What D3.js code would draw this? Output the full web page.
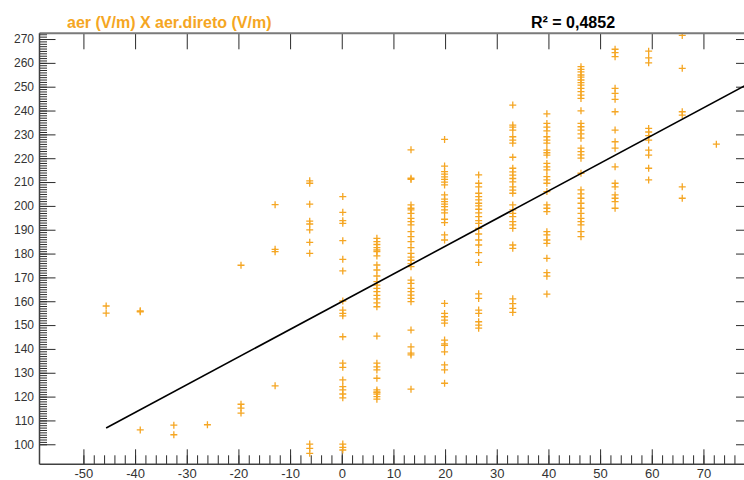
<!DOCTYPE html>
<html>
<head>
<meta charset="utf-8">
<script src="https://cdn.jsdelivr.net/npm/d3@7"></script>
<style>
  html, body { margin: 0; padding: 0; background: #fff; }
  svg { display: block; font-family: "Liberation Sans", Arial, sans-serif; }
</style>
</head>
<body>
<svg id="chart" width="744" height="480"></svg>
<script>
// ---- data ----
const titleText = "aer (V/m) X aer.direto (V/m)";
const r2Text = "R\u00B2 = 0,4852";

const xTickValues = [-50, -40, -30, -20, -10, 0, 10, 20, 30, 40, 50, 60, 70];
const yTickValues = [100, 110, 120, 130, 140, 150, 160, 170, 180, 190, 200, 210, 220, 230, 240, 250, 260, 270];

// x position of each vertical group of points
const colX = [-45.6, -39.0, -32.5, -26.0, -19.5, -12.9, -6.2, 0.2, 6.8, 13.4, 19.9, 26.5, 33.1, 39.7, 46.3, 52.9, 59.4, 65.9, 72.5];
// y values in each group
const colY = [
  [158, 155],
  [156, 155.6, 106],
  [108, 104],
  [108.2],
  [175.1, 116.8, 115.2, 113.1],
  [200.5, 181.8, 180.8, 124.5],
  [210.5, 209.5, 200.7, 193.6, 192.4, 189.9, 184.7, 180.1, 100.1, 98.3, 96.2],
  [203.9, 197.3, 193.8, 192.7, 185.4, 177.6, 172.7, 160.1, 156.3, 154.9, 153.9, 145.1, 134, 132.3, 127, 124.2, 122.8, 121.1, 119.5, 100.1, 98.7, 97.6],
  [186.4, 185, 183.8, 182.5, 181.5, 180.8, 179, 175.2, 173.1, 170.6, 168.2, 166.8, 165.4, 164, 162.5, 161, 159.3, 157.7, 145.4, 134, 132.5, 131.2, 127.7, 122.8, 122, 121.7, 121, 120, 118.9],
  [223.5, 211.6, 211.1, 200.4, 199, 198.3, 196.9, 194.8, 193.4, 192, 189.2, 187.1, 185, 182.5, 180.1, 178.5, 177.2, 175.8, 174.5, 168.9, 167.5, 165.4, 164, 162.6, 161.2, 159.8, 147.9, 140.9, 138.2, 137.5, 123.1],
  [227.9, 216.7, 214.4, 213.3, 212.2, 211.1, 210, 208.8, 204.6, 202.8, 201.8, 200.7, 199.7, 198.3, 197.1, 194.4, 193, 187.8, 185.7, 159.1, 154.9, 153.5, 152.1, 150.8, 143.7, 142.1, 141.5, 138.8, 133.3, 131.2, 125.6],
  [213, 209.5, 208, 205.3, 203.9, 202.5, 201.1, 200, 198.6, 197.1, 195.5, 193.8, 192.7, 190.6, 188.2, 185.7, 183.6, 180.4, 176.3, 163.1, 161.2, 156.3, 154.9, 151.4, 150, 148.7],
  [242.3, 233.9, 233, 231.8, 229, 227.6, 226.3, 220.4, 215.8, 214.3, 212.9, 211.5, 210.1, 208, 206.6, 205.3, 200.4, 198.3, 196.9, 195.5, 193.4, 192, 190.6, 183.6, 182.2, 161, 159, 157, 155.3],
  [238.6, 234.6, 233, 231.5, 229, 227.6, 226.3, 223.4, 222.3, 221.3, 217.8, 216.4, 215.1, 212.3, 210.9, 209.5, 206, 200.4, 199, 197.6, 189.2, 187.8, 185.7, 184.3, 178, 172, 170.5, 163],
  [258.4, 257.3, 256.2, 254.9, 254, 252.8, 251.7, 250.7, 249.3, 247.9, 246.5, 245.1, 239.9, 234.6, 233.2, 231.8, 230.2, 228.4, 224.2, 222.8, 221.4, 220, 213.7, 206.7, 205, 203.2, 201.1, 199, 196.9, 194.8, 193.4, 192, 189.2, 187.1],
  [265.7, 264.3, 262.6, 249.3, 247.2, 244.7, 239.5, 231.8, 226.9, 224.2, 216.4, 209.5, 208, 204.6, 203.2, 201.8, 199],
  [264.9, 262.1, 260, 232.5, 231, 229.5, 227.6, 223.4, 221.3, 215.8, 210.9],
  [271.5, 257.7, 239.5, 238.1, 208, 203.2],
  [225.9]
];

// regression fit
const fitSlope = 1.162;
const fitIntercept = 159.8;
const fitXStart = -45.6;

// ---- layout ----
const W = 744, H = 480;
const plot = { left: 39.5, right: 752, top: 33.3, bottom: 464.3 };
const xDomain = [-58.5, 79.4];
const yDomain = [91.6, 272.4];
const orange = "#F5A623";

const svg = d3.select("#chart");
svg.append("rect").attr("width", W).attr("height", H).attr("fill", "#fff");

const x = d3.scaleLinear().domain(xDomain).range([plot.left, plot.right]);
const y = d3.scaleLinear().domain(yDomain).range([plot.bottom, plot.top]);

svg.append("defs").append("clipPath").attr("id", "clip")
  .append("rect")
  .attr("x", plot.left).attr("y", plot.top)
  .attr("width", plot.right - plot.left).attr("height", plot.bottom - plot.top);

const axisColor = "#2b2b2b";
const labelColor = "#333";
const plainNum = d => String(d);

function styleAxis(g, hideDomain) {
  if (hideDomain) g.select(".domain").remove();
  g.selectAll(".tick line").attr("stroke", axisColor).attr("stroke-width", 1);
  g.selectAll("text").attr("fill", labelColor);
}

// left axis minor ticks (every 1)
svg.append("g").attr("transform", `translate(${plot.left},0)`)
  .call(d3.axisLeft(y).tickValues(d3.range(100, 273, 1)).tickSize(-7.5).tickFormat(""))
  .call(g => styleAxis(g, true));
// left axis major ticks + labels
svg.append("g").attr("transform", `translate(${plot.left},0)`)
  .call(d3.axisLeft(y).tickValues(yTickValues).tickSize(-16).tickPadding(5.5).tickFormat(plainNum))
  .call(g => styleAxis(g, true))
  .call(g => g.selectAll("text").attr("font-size", 12).attr("font-family", "Liberation Sans, Arial, sans-serif"));

// right axis ticks
svg.append("g").attr("transform", `translate(${plot.right},0)`)
  .call(d3.axisRight(y).tickValues(yTickValues).tickSize(-16).tickFormat(""))
  .call(g => styleAxis(g, true));

// bottom minor ticks (every 2)
svg.append("g").attr("transform", `translate(0,${plot.bottom})`)
  .call(d3.axisBottom(x).tickValues(d3.range(-50, 80, 2)).tickSize(-9).tickFormat(""))
  .call(g => styleAxis(g, true));
// bottom major ticks + labels
svg.append("g").attr("transform", `translate(0,${plot.bottom})`)
  .call(d3.axisBottom(x).tickValues(xTickValues).tickSize(-15).tickPadding(4.2).tickFormat(plainNum))
  .call(g => styleAxis(g, true))
  .call(g => g.selectAll("text").attr("font-size", 13).attr("font-family", "Liberation Sans, Arial, sans-serif"));

// top major ticks
svg.append("g").attr("transform", `translate(0,${plot.top})`)
  .call(d3.axisTop(x).tickValues(xTickValues).tickSize(-16).tickFormat(""))
  .call(g => styleAxis(g, true));

// points
const points = [];
colX.forEach((cx, i) => colY[i].forEach(v => points.push({ x: cx, y: v })));

const pts = svg.append("g").attr("clip-path", "url(#clip)");
pts.selectAll("path.pt").data(points).join("path")
  .attr("class", "pt")
  .attr("d", "M-3.5,0H3.5M0,-3.5V3.5")
  .attr("transform", d => `translate(${x(d.x)},${y(d.y)})`)
  .attr("fill", "none")
  .attr("stroke", orange)
  .attr("stroke-width", 1.3);

// regression line
const fitX = [fitXStart, xDomain[1]];
const line = d3.line().x(d => x(d)).y(d => y(fitIntercept + fitSlope * d));
svg.append("g").attr("clip-path", "url(#clip)")
  .append("path")
  .attr("d", line(fitX))
  .attr("fill", "none")
  .attr("stroke", "#000")
  .attr("stroke-width", 1.6);

// frame lines
svg.append("line")
  .attr("x1", plot.left).attr("x2", plot.right)
  .attr("y1", plot.top).attr("y2", plot.top)
  .attr("stroke", "#7a7a7a").attr("stroke-width", 2);
svg.append("line")
  .attr("x1", plot.left).attr("x2", plot.left)
  .attr("y1", plot.top).attr("y2", plot.bottom)
  .attr("stroke", "#404040").attr("stroke-width", 1.5);
svg.append("line")
  .attr("x1", plot.left).attr("x2", plot.right)
  .attr("y1", plot.bottom).attr("y2", plot.bottom)
  .attr("stroke", "#404040").attr("stroke-width", 1.5);

// titles
svg.append("text")
  .attr("x", 67).attr("y", 28)
  .attr("font-size", 16).attr("font-weight", "bold")
  .attr("fill", orange)
  .text(titleText);
svg.append("text")
  .attr("x", 531).attr("y", 28)
  .attr("font-size", 16).attr("font-weight", "bold")
  .attr("fill", "#000")
  .text(r2Text);
</script>
</body>
</html>
